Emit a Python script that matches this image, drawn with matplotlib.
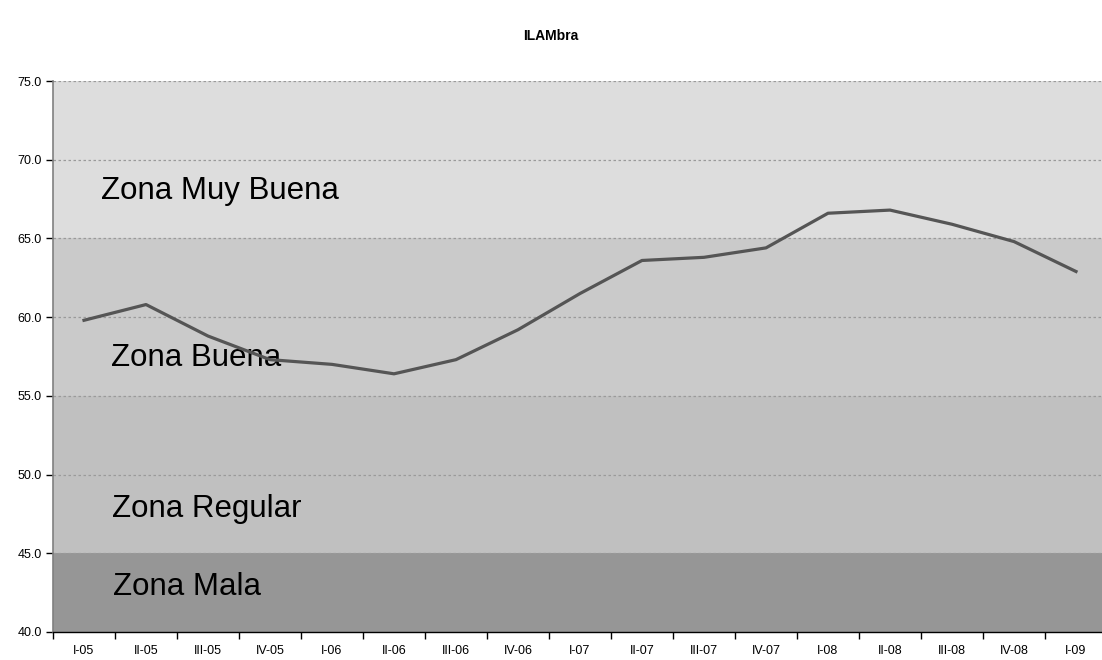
import matplotlib
matplotlib.use("Agg")
import matplotlib.pyplot as plt
import numpy as np

plt.rcParams['font.family'] = ['Liberation Sans', 'DejaVu Sans']

title = "ILAMbra"
quarters = ["I-05", "II-05", "III-05", "IV-05", "I-06", "II-06", "III-06", "IV-06",
            "I-07", "II-07", "III-07", "IV-07", "I-08", "II-08", "III-08", "IV-08", "I-09"]
values = [59.8, 60.8, 58.8, 57.3, 57.0, 56.4, 57.3, 59.2,
          61.5, 63.6, 63.8, 64.4, 66.6, 66.8, 65.9, 64.8, 62.9]

zone_names = ["Zona Mala", "Zona Regular", "Zona Buena", "Zona Muy Buena"]
zone_low = [40, 45, 55, 65]
zone_high = [45, 55, 65, 75]
zone_colors = ["#969696", "#c0c0c0", "#cacaca", "#dddddd"]
zone_label_y = [42.35, 47.3, 56.9, 67.5]
zone_label_x = [0.057, 0.056, 0.055, 0.046]

fig = plt.figure(figsize=(11.02, 6.6), dpi=100)
ax = fig.add_axes([53/1102, 28/660, 1054/1102, 551/660])

n = len(quarters)
x = np.arange(n)
ax.set_xlim(-0.5, n - 0.5)
ax.set_ylim(40, 75)

for lo, hi, c in zip(zone_low, zone_high, zone_colors):
    ax.axhspan(lo, hi, color=c, zorder=0, linewidth=0)

for name, ly, lx in zip(zone_names, zone_label_y, zone_label_x):
    ax.text(lx, ly, name, transform=ax.get_yaxis_transform(), fontsize=22.5,
            color="#000000", ha="left", va="baseline", zorder=3)

ax.plot(x, values, color="#555555", linewidth=2.3, zorder=4, solid_joinstyle="round")

# grid
ax.set_yticks(np.arange(40, 76, 5))
ax.set_yticklabels([f"{v:.1f}" for v in np.arange(40, 76, 5)], fontsize=9)
for v in np.arange(45, 76, 5):
    ax.axhline(v, color="#9a9a9a", linewidth=0.9, linestyle=(0, (2, 2)), zorder=2)

ax.set_xticks(np.arange(-0.5, n, 1.0))
ax.set_xticklabels([])
ax.set_xticks(x, minor=True)
ax.set_xticklabels(quarters, minor=True, fontsize=9)
ax.tick_params(axis="x", which="minor", length=0, pad=9)
ax.tick_params(axis="x", which="major", length=5, width=1, color="#000000", direction="out")
ax.tick_params(axis="y", length=5, width=1, color="#000000", direction="out", pad=3)

for s in ["top", "right"]:
    ax.spines[s].set_visible(False)
ax.spines["left"].set_color("#808080")
ax.spines["left"].set_linewidth(1.2)
ax.spines["bottom"].set_color("#000000")
ax.spines["bottom"].set_linewidth(1.0)

fig.text(551/1102, 1 - 36/660, title, ha="center", va="center", fontsize=10, fontweight="bold")

fig.savefig("out.png", dpi=100, facecolor="white")
